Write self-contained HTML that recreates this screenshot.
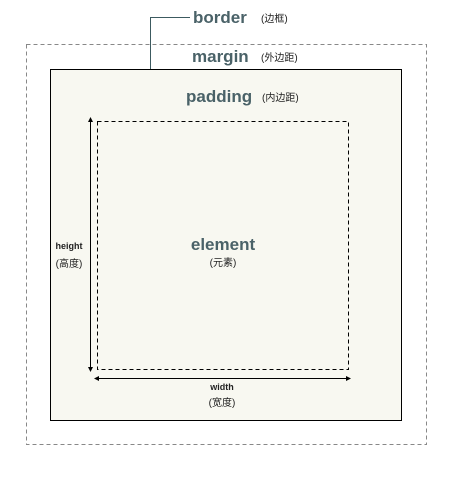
<!DOCTYPE html>
<html><head><style>body{margin:0;background:#fff}svg{display:block}</style></head><body>
<svg width="470" height="490" xmlns="http://www.w3.org/2000/svg" font-family="Liberation Sans, 'Noto Sans CJK SC', sans-serif">
<rect x="26.5" y="44.5" width="400" height="400" fill="none" stroke="#888" stroke-dasharray="4,3"/>
<rect x="50.5" y="69.5" width="351" height="351" fill="#f8f8f1" stroke="#000"/>
<rect x="97.5" y="121.5" width="251" height="248" fill="none" stroke="#000" stroke-dasharray="4,3"/>
<polyline points="150.5,69 150.5,17.5 190,17.5" fill="none" stroke="#3c5a60"/>
<text x="193" y="23" font-size="17" font-weight="bold" fill="#4a6268">border</text>
<text x="261" y="22" font-size="10" fill="#222">(边框)</text>
<text x="192" y="62" font-size="17" font-weight="bold" fill="#4a6268">margin</text>
<text x="261" y="61" font-size="10" fill="#222">(外边距)</text>
<text x="186" y="102" font-size="17" font-weight="bold" fill="#4a6268">padding</text>
<text x="262" y="101" font-size="10" fill="#222">(内边距)</text>
<text x="223" y="250" font-size="17" font-weight="bold" fill="#4a6268" text-anchor="middle">element</text>
<text x="223" y="266" font-size="10" fill="#222" text-anchor="middle">(元素)</text>
<line x1="90.5" y1="120" x2="90.5" y2="369" stroke="#000"/>
<polygon points="88,122 93,122 90.5,117" fill="#000"/>
<polygon points="88,367 93,367 90.5,372" fill="#000"/>
<text x="69" y="249" font-size="9" font-weight="bold" fill="#222" text-anchor="middle">height</text>
<text x="69" y="267" font-size="10" fill="#222" text-anchor="middle">(高度)</text>
<line x1="97" y1="378.5" x2="348" y2="378.5" stroke="#000"/>
<polygon points="99,376 99,381 94,378.5" fill="#000"/>
<polygon points="346,376 346,381 351,378.5" fill="#000"/>
<text x="222" y="390" font-size="9" font-weight="bold" fill="#222" text-anchor="middle">width</text>
<text x="222" y="406" font-size="10" fill="#222" text-anchor="middle">(宽度)</text>
</svg>
</body></html>
